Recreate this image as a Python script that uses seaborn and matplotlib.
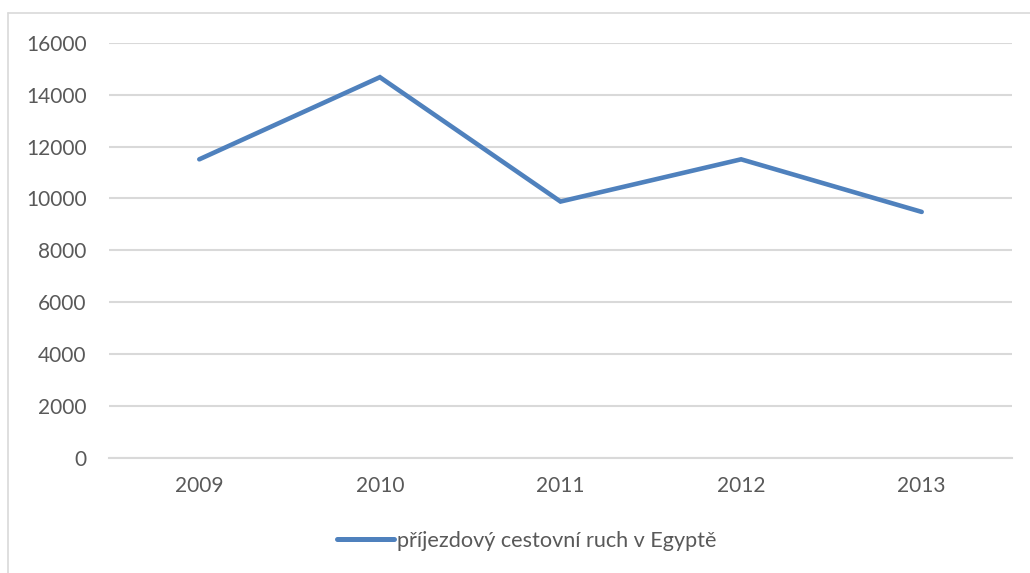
import matplotlib
matplotlib.use("Agg")
import matplotlib.pyplot as plt
from matplotlib.lines import Line2D
import seaborn as sns
import pandas as pd

years = ["2009", "2010", "2011", "2012", "2013"]
arrivals = [11510, 14680, 9880, 11510, 9480]
series_name = "příjezdový cestovní ruch v Egyptě"
yticks = [0, 2000, 4000, 6000, 8000, 10000, 12000, 14000, 16000]

df = pd.DataFrame({"year": years, "value": arrivals, "series": series_name})

sns.set_theme(style="white")
plt.rcParams["font.family"] = ["Lato", "DejaVu Sans"]

W, H = 1030, 573
fig = plt.figure(figsize=(W / 100, H / 100), dpi=100)
ax = fig.add_axes([109 / W, 1 - 457.5 / H, (1012 - 109) / W, (457.5 - 43) / H])

blue = "#4F81BD"
grid = "#D9D9D9"
txt = "#595959"

sns.lineplot(data=df, x="year", y="value", hue="series", palette=[blue],
             linewidth=3.3, ax=ax, sort=False, legend=False,
             solid_capstyle="round", solid_joinstyle="miter")

ax.set_xlim(-0.5, len(years) - 0.5)
ax.set_ylim(0, 16000)
ax.set_yticks(yticks)
ax.set_yticklabels([str(v) for v in yticks])
ax.yaxis.grid(True, color=grid, linewidth=1.5)
ax.xaxis.grid(False)
ax.set_axisbelow(True)
for s in ["top", "right", "left"]:
    ax.spines[s].set_visible(False)
ax.spines["bottom"].set_color(grid)
ax.spines["bottom"].set_linewidth(1.5)
ax.tick_params(axis="y", length=0, pad=16, labelsize=15, labelcolor=txt)
ax.tick_params(axis="x", length=0, pad=13, labelsize=15, labelcolor=txt)
ax.set_xlabel("")
ax.set_ylabel("")

handle = Line2D([0], [0], color=blue, linewidth=3.6, solid_capstyle="round")
fig.legend([handle], [series_name], loc="center", bbox_to_anchor=(527 / W, 1 - 541 / H),
           frameon=False, fontsize=15.6, labelcolor=txt, handlelength=2.6,
           handletextpad=0.15)

# chart border (left and top)
fig.add_artist(Line2D([8 / W, 8 / W], [0, 1 - 13 / H], transform=fig.transFigure,
                      color=grid, linewidth=1.2))
fig.add_artist(Line2D([8 / W, 1], [1 - 13 / H, 1 - 13 / H], transform=fig.transFigure,
                      color=grid, linewidth=1.2))

fig.savefig("out.png", dpi=100)
